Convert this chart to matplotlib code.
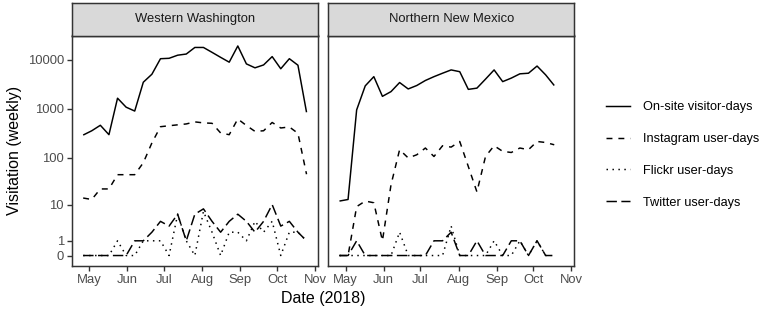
import numpy as np
import pandas as pd
import matplotlib
matplotlib.use('Agg')
import matplotlib.pyplot as plt
import matplotlib.dates as mdates
from matplotlib.lines import Line2D

plt.rcParams['font.family'] = ['Liberation Sans', 'DejaVu Sans']

# %% data (weekly, 2018)
wa_dates = pd.date_range('2018-04-26', periods=27, freq='7D')
nm_dates = pd.date_range('2018-04-26', periods=26, freq='7D')

wa_onsite = [290, 355, 460, 295, 1650, 1080, 900, 3500, 5100, 10600, 10800, 12500, 13200, 18000,
             18000, 14300, 11300, 9000, 19300, 8300, 6900, 7900, 11700, 6600, 10600, 7800, 850]
wa_insta = [14, 13, 22, 22, 44, 44, 44, 78, 200, 430, 450, 470, 490, 540, 515, 505, 320, 295,
            620, 455, 345, 355, 525, 405, 425, 315, 45]
wa_flickr = [0, 0, 0, 0, 1, 0, 0, 1, 1, 1, 0, 6, 1, 0, 7, 2, 0, 2, 2, 1, 4, 2, 4, 0, 2, 2, 1]
wa_twitter = [0, 0, 0, 0, 0, 0, 1, 1, 2, 4, 3, 6, 1, 6, 8, 4, 2, 4, 6, 4, 2, 4, 10, 3, 4, 2, 1]

nm_onsite = [12, 13, 950, 2950, 4550, 1800, 2250, 3450, 2550, 3000, 3800, 4550, 5350, 6250, 5750,
             2500, 2650, 4050, 6250, 3600, 4250, 5200, 5350, 7500, 4950, 3000]
nm_insta = [0, 0, 9, 12, 11, 1, 27, 145, 98, 114, 157, 105, 175, 164, 214, 65, 19, 105, 175, 134,
            127, 157, 145, 214, 204, 183]
nm_flickr = [0, 0, 0, 0, 0, 0, 0, 2, 0, 0, 0, 0, 0, 3, 0, 0, 0, 0, 1, 0, 0, 1, 0, 1, 0, 0]
nm_twitter = [0, 0, 1, 0, 0, 0, 0, 0, 0, 0, 0, 1, 1, 2, 0, 0, 1, 0, 0, 0, 1, 1, 0, 1, 0, 0]

series_names = ['On-site visitor-days', 'Instagram user-days', 'Flickr user-days', 'Twitter user-days']
panels = {'Western Washington': (wa_dates, [wa_onsite, wa_insta, wa_flickr, wa_twitter]),
          'Northern New Mexico': (nm_dates, [nm_onsite, nm_insta, nm_flickr, nm_twitter])}
yticks = [0, 1, 10, 100, 1000, 10000]

# %% styles (ggplot linetypes: solid, dashed, dotted, longdash)
lw = 1.07
styles = [dict(linestyle='-'),
          dict(linestyle=(0, (4, 4))),
          dict(linestyle=(0, (1, 3))),
          dict(linestyle=(0, (7, 3)))]
border = '#333333'
small = 9.4


def fwd(x):
    return np.log10(np.asarray(x, dtype=float) + 1)


def inv(y):
    return 10 ** np.asarray(y, dtype=float) - 1


W, H = 767, 312
fig = plt.figure(figsize=(W / 100, H / 100), dpi=100)

pan_top, pan_bot = 35.5, 266
strip_top = 2.7
lefts = [72, 328.3]
width = 245.7

span = wa_dates[-1] - wa_dates[0]
xlo = wa_dates[0] - span * 0.05
xhi = wa_dates[-1] + span * 0.05
ymax = max(max(wa_onsite), max(nm_onsite))
ylo = inv(-0.05 * fwd(ymax))
yhi = inv(1.05 * fwd(ymax))

axes = []
for i, (name, (dates, vals)) in enumerate(panels.items()):
    ax = fig.add_axes([lefts[i] / W, 1 - pan_bot / H, width / W, (pan_bot - pan_top) / H])
    for v, st in zip(vals, styles):
        ax.plot(dates, v, color='black', lw=lw, solid_capstyle='butt', dash_capstyle='butt', **st)
    ax.set_yscale('function', functions=(fwd, inv))
    ax.set_ylim(ylo, yhi)
    ax.set_xlim(xlo, xhi)
    ax.set_yticks(yticks)
    ax.set_yticklabels([str(t) for t in yticks])
    ax.xaxis.set_major_locator(mdates.MonthLocator(bymonth=range(5, 12)))
    ax.xaxis.set_major_formatter(mdates.DateFormatter('%b'))
    ax.yaxis.set_minor_locator(plt.NullLocator())
    ax.tick_params(length=3.8, width=1.0, color=border, labelcolor='#4D4D4D', labelsize=small, pad=2)
    if i > 0:
        ax.tick_params(axis='y', left=False, labelleft=False)
    for s in ax.spines.values():
        s.set_color(border)
        s.set_linewidth(1.07)

    sax = fig.add_axes([lefts[i] / W, 1 - pan_top / H, width / W, (pan_top - strip_top) / H])
    sax.set_facecolor('#D9D9D9')
    sax.set_xticks([])
    sax.set_yticks([])
    for s in sax.spines.values():
        s.set_color(border)
        s.set_linewidth(1.07)
    sax.text(0.5, 0.5, name, ha='center', va='center', fontsize=small, color='#1A1A1A',
             transform=sax.transAxes)
    axes.append(ax)

axes[0].set_ylabel('Visitation (weekly)', fontsize=11.5, labelpad=4)
fig.text((lefts[0] + lefts[1] + width) / 2 / W, 1 - 298 / H, 'Date (2018)', ha='center',
         va='center', fontsize=11.5)

handles = [Line2D([], [], color='black', lw=lw, **st) for st in styles]
fig.legend(handles, series_names, loc='center left', bbox_to_anchor=(594 / W, 1 - 155 / H),
           frameon=False, fontsize=9.2, handlelength=1.95, handletextpad=0.95, labelspacing=1.55)

fig.savefig('out.png', dpi=100)
